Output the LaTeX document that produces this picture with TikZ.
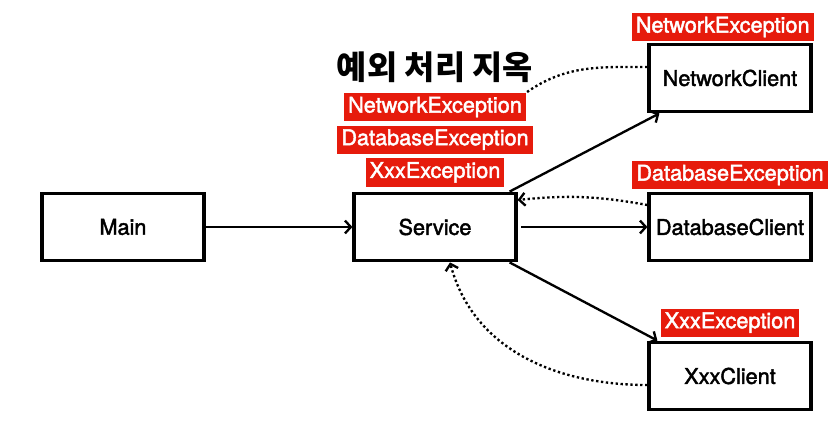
\documentclass[tikz,border=0pt]{standalone}
\usepackage{fontspec}
\setmainfont{TeX Gyre Heros}[FakeBold=2]
\newfontfamily\krfont{Noto Sans CJK KR}
\usetikzlibrary{arrows.meta,positioning}
\definecolor{excred}{RGB}{230,27,12}
\tikzset{box/.style={draw,line width=3pt,minimum width=4.85cm,minimum height=2.02cm,font=\fontsize{18.5}{22}\selectfont}}
\tikzset{exc/.style={rectangle,fill=excred,text=white,inner xsep=3.5pt,inner ysep=2pt,minimum height=0.85cm,font=\fontsize{18.5}{22}\selectfont}}
\tikzset{call/.style={draw,line width=2pt,->}}
\tikzset{throw/.style={draw,line width=2pt,dash pattern=on 2pt off 2.2pt}}
\begin{document}
\begin{tikzpicture}[node distance=9.36cm,>={Straight Barb[length=5pt,width=11pt]}]
    \useasboundingbox (0,0) rectangle (24.99,-12.63);
    \node[box] (main) at (3.69,-6.81) {Main};
    \node[box,right of=main] (service) {Service};
    \node[box,right of=service,node distance=8.85cm] (dbc) {DatabaseClient};
    \node[box,above of=dbc,node distance=4.47cm] (netc) {NetworkClient};
    \node[box,below of=dbc,node distance=4.47cm] (xxxc) {XxxClient};

     \node[exc,above of=netc,node distance=1.53cm,xshift=-0.22cm] (netx) {NetworkException};
     \node[exc,above of=dbc,node distance=1.56cm] (dbx) {DatabaseException};
     \node[exc,above of=xxxc,node distance=1.6cm] (xxxx) {XxxException};

     \node[exc,above of=service,node distance=1.64cm] (xxxs) {XxxException};
     \node[exc,above of=xxxs,node distance=0.98cm] (dbs) {DatabaseException};
     \node[exc,above of=dbs,node distance=0.98cm] (nets) {NetworkException};
     \node[above of=nets,node distance=1.2cm,font=\krfont\bfseries\fontsize{28}{30}\selectfont] (title) {예외 처리 지옥};

        \path[call] (main) -- (service);
        \path[call,shorten <=3pt] (service) -- (dbc);
        \path[call] ([xshift=-0.24cm]service.north east) -- ([xshift=0.36cm]netc.south west);
        \path[call] ([xshift=-0.24cm]service.south east) -- ([xshift=0.3cm]xxxc.north west);
        \path[throw] ([yshift=0.33cm]netc.west) to[out=180,in=35] (nets.north east);
        \path[throw,->] ([yshift=0.66cm]dbc.west) to[bend right=8] ([yshift=0.81cm]service.east);
        \path[throw,->] ([yshift=-0.27cm]xxxc.west) to[out=180,in=-75] ([xshift=0.45cm]service.south);
  \end{tikzpicture}
\end{document}
